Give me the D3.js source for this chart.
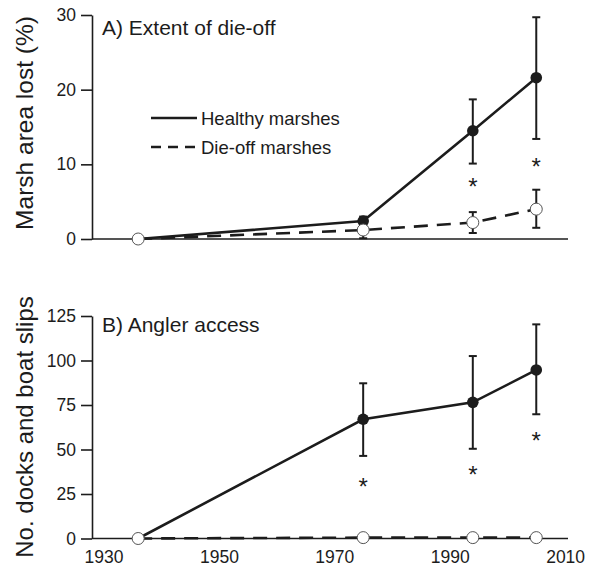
<!DOCTYPE html>
<html>
<head>
<meta charset="utf-8">
<script src="https://cdn.jsdelivr.net/npm/d3@7"></script>
<style>
  html, body { margin: 0; padding: 0; background: #fff; }
  svg { display: block; font-family: "Liberation Sans", Arial, Helvetica, sans-serif; }
</style>
</head>
<body>
<svg id="chart" width="594" height="568"></svg>
<script>
// ---- Data ----
const years = [1936, 1975, 1994, 2005];
const xTickLabels = [1930, 1950, 1970, 1990, 2010];

// Panel A: Extent of die-off (% marsh area lost)
const aTicks = [0, 10, 20, 30];
const aHealthyMean = [0, 2.4, 14.5, 21.6];
const aHealthyLow  = [0, 1.8, 10.1, 13.4];
const aHealthyHigh = [0, 3.0, 18.7, 29.7];
const aDieoffMean  = [0, 1.2, 2.2, 4.0];
const aDieoffLow   = [0, 0.1, 0.8, 1.5];
const aDieoffHigh  = [0, 2.3, 3.6, 6.6];
const aStarYears   = [1994, 2005];
const aStarValues  = [7.7, 10.3];

// Panel B: Angler access (no. docks and boat slips)
const bTicks = [0, 25, 50, 75, 100, 125];
const bHealthyMean = [0, 67.0, 76.5, 94.7];
const bHealthyLow  = [0, 46.4, 50.4, 69.8];
const bHealthyHigh = [0, 87.2, 102.5, 120.3];
const bDieoffMean  = [0, 0.5, 0.5, 0.5];
const bDieoffLow   = [0, 0.3, 0.3, 0.3];
const bDieoffHigh  = [0, 0.7, 0.7, 0.7];
const bStarYears   = [1975, 1994, 2005];
const bStarValues  = [31.9, 38.5, 57.6];

const legendLabels = ["Healthy marshes", "Die-off marshes"];

// ---- Drawing ----
const svg = d3.select("#chart");
const ink = "#1c1c1c";

const x = d3.scaleLinear().domain([1928, 2010.5]).range([92, 568]);

function panel(cfg) {
  const y = d3.scaleLinear().domain(cfg.domain).range(cfg.range);
  const g = svg.append("g");

  // y axis
  const yAxis = d3.axisLeft(y).tickValues(cfg.ticks).tickSize(11).tickSizeOuter(0).tickPadding(5);
  const ya = g.append("g").attr("transform", `translate(${x.range()[0]},0)`).call(yAxis);
  ya.select(".domain").attr("stroke", ink).attr("stroke-width", 1.6);
  ya.selectAll(".tick line").attr("stroke", ink).attr("stroke-width", 1.6);
  ya.selectAll(".tick text").attr("fill", ink).style("font-size", "17.5px").style("font-family", "inherit");

  // x axis line
  g.append("line")
    .attr("x1", x.range()[0]).attr("x2", x.range()[1])
    .attr("y1", y(0)).attr("y2", y(0))
    .attr("stroke", ink).attr("stroke-width", 1.6);

  if (cfg.xLabels) {
    const xa = g.append("g").attr("transform", `translate(0,${y(0)})`)
      .call(d3.axisBottom(x).tickValues(xTickLabels).tickFormat(d3.format("d")).tickSize(0).tickPadding(12));
    xa.select(".domain").remove();
    xa.selectAll(".tick text").attr("fill", ink).style("font-size", "17.5px").style("font-family", "inherit");
  }

  // y title
  g.append("text")
    .attr("transform", `translate(${cfg.titleX},${cfg.titleY}) rotate(-90)`)
    .attr("text-anchor", "middle")
    .attr("fill", ink)
    .style("font-size", cfg.titleSize + "px")
    .text(cfg.yTitle);

  // panel label
  g.append("text")
    .attr("x", 102).attr("y", cfg.labelY)
    .attr("fill", ink)
    .style("font-size", "21px")
    .text(cfg.label);

  const line = d3.line().x((d, i) => x(years[i])).y(d => y(d));

  // healthy line
  g.append("path").datum(cfg.hMean).attr("d", line)
    .attr("fill", "none").attr("stroke", ink).attr("stroke-width", 2.6);
  // die-off line
  g.append("path").datum(cfg.dMean).attr("d", line)
    .attr("fill", "none").attr("stroke", ink).attr("stroke-width", 2.6)
    .attr("stroke-dasharray", "14,9");

  function errorBars(lo, hi) {
    const eb = g.append("g");
    years.forEach((yr, i) => {
      if (hi[i] - lo[i] <= 0) return;
      const cx = x(yr);
      eb.append("line").attr("x1", cx).attr("x2", cx).attr("y1", y(lo[i])).attr("y2", y(hi[i]))
        .attr("stroke", ink).attr("stroke-width", 2);
      [lo[i], hi[i]].forEach(v => {
        eb.append("line").attr("x1", cx - 4).attr("x2", cx + 4).attr("y1", y(v)).attr("y2", y(v))
          .attr("stroke", ink).attr("stroke-width", 2);
      });
    });
  }
  errorBars(cfg.dLow, cfg.dHigh);
  errorBars(cfg.hLow, cfg.hHigh);

  // healthy markers (filled), first point shown as open
  g.selectAll(".hm").data(cfg.hMean).enter().append("circle")
    .filter((d, i) => i > 0)
    .attr("cx", (d, i) => x(years[i + 1]))
    .attr("cy", d => y(d))
    .attr("r", 5.8).attr("fill", ink);
  // die-off markers (open)
  g.selectAll(".dm").data(cfg.dMean).enter().append("circle")
    .attr("cx", (d, i) => x(years[i]))
    .attr("cy", d => y(d))
    .attr("r", 6).attr("fill", "#fff").attr("stroke", "#555").attr("stroke-width", 1);

  // asterisks
  g.selectAll(".star").data(cfg.starValues).enter().append("text")
    .attr("x", (d, i) => x(cfg.starYears[i]))
    .attr("y", d => y(d) + 13)
    .attr("text-anchor", "middle")
    .attr("fill", ink)
    .style("font-size", "24px")
    .text("*");

  return { g, y };
}

const pA = panel({
  domain: [0, 30], range: [239, 15], ticks: aTicks,
  yTitle: "Marsh area lost (%)", titleX: 33, titleY: 123, titleSize: 24.5,
  label: "A) Extent of die-off", labelY: 34.5,
  hMean: aHealthyMean, hLow: aHealthyLow, hHigh: aHealthyHigh,
  dMean: aDieoffMean, dLow: aDieoffLow, dHigh: aDieoffHigh,
  starYears: aStarYears, starValues: aStarValues, xLabels: false
});

const pB = panel({
  domain: [0, 125], range: [538.5, 316], ticks: bTicks,
  yTitle: "No. docks and boat slips", titleX: 33, titleY: 427, titleSize: 24,
  label: "B) Angler access", labelY: 331.5,
  hMean: bHealthyMean, hLow: bHealthyLow, hHigh: bHealthyHigh,
  dMean: bDieoffMean, dLow: bDieoffLow, dHigh: bDieoffHigh,
  starYears: bStarYears, starValues: bStarValues, xLabels: true
});

// legend (panel A)
const leg = pA.g.append("g");
const legY = [118, 147];
legendLabels.forEach((lab, i) => {
  leg.append("line")
    .attr("x1", 151).attr("x2", 197).attr("y1", legY[i]).attr("y2", legY[i])
    .attr("stroke", ink).attr("stroke-width", 2.6)
    .attr("stroke-dasharray", i === 1 ? "10,7" : null);
  leg.append("text")
    .attr("x", 201).attr("y", legY[i] + 7)
    .attr("fill", ink)
    .style("font-size", "18.5px")
    .text(lab);
});
</script>
</body>
</html>
